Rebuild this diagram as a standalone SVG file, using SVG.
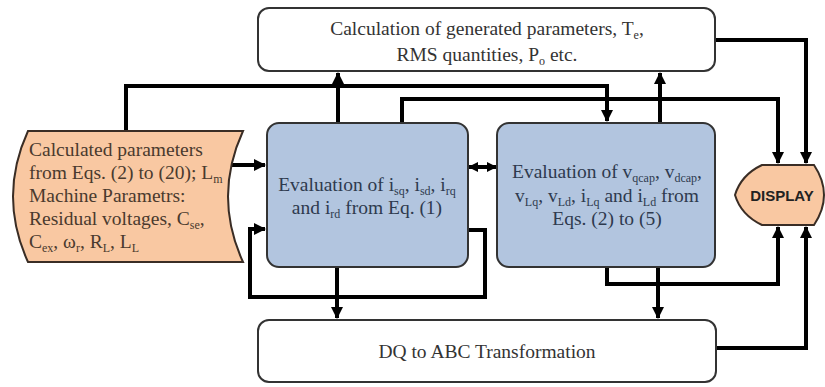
<svg xmlns="http://www.w3.org/2000/svg" width="825" height="387" viewBox="0 0 825 387">
<defs>
<style>
.box{fill:#ffffff;stroke:#333;stroke-width:2}
.blue{fill:#B2C5DF;stroke:#333;stroke-width:2}
.peach{fill:#F9C8A2;stroke:#3a2d25;stroke-width:2}
.t{font-family:"Liberation Serif","Times New Roman",serif;font-size:19.5px;fill:#333}
.tb{font-family:"Liberation Serif","Times New Roman",serif;font-size:19.5px;fill:#2e3a4e}
.tl{font-family:"Liberation Serif","Times New Roman",serif;font-size:19.5px;fill:#4a3a2e}
.s{font-size:12px}
.disp{font-family:"Liberation Sans",Arial,sans-serif;font-size:15px;font-weight:bold;fill:#222}
.c{fill:none;stroke:#000;stroke-width:4}
</style>
<marker id="ah" markerWidth="12" markerHeight="12" refX="11" refY="6" orient="auto-start-reverse" markerUnits="userSpaceOnUse">
<path d="M0,0 L12,6 L0,12 z" fill="#000"/>
</marker>
<marker id="ahs" markerWidth="10" markerHeight="10" refX="9" refY="5" orient="auto-start-reverse" markerUnits="userSpaceOnUse">
<path d="M0,0 L10,5 L0,10 z" fill="#000"/>
</marker>
</defs>
<rect width="825" height="387" fill="#ffffff"/>

<g id="connectors">
<path class="c" d="M126,131 V86 H607 V121" marker-end="url(#ah)"/>
<path class="c" d="M338,123 V73" marker-end="url(#ah)"/>
<path class="c" d="M402,123 V99 H778 V163" marker-end="url(#ah)"/>
<path class="c" d="M660,123 V73" marker-end="url(#ah)"/>
<path class="c" d="M715,40 H806 V163" marker-end="url(#ah)"/>
<path class="c" d="M232,165 H265" marker-end="url(#ah)"/>
<path class="c" d="M469,167 H496" marker-start="url(#ahs)" marker-end="url(#ahs)"/>
<path class="c" d="M337,267 V318" marker-end="url(#ah)"/>
<path class="c" d="M468,230 H485 V297 H250 V229 H265" marker-end="url(#ah)"/>
<path class="c" d="M607,267 V284 H778 V227" marker-end="url(#ah)"/>
<path class="c" d="M658,267 V318" marker-end="url(#ah)"/>
<path class="c" d="M716,348 H806 V227" marker-end="url(#ah)"/>
</g>

<g id="top-box">
<rect class="box" x="258" y="8" width="457" height="63" rx="11"/>
<text class="t" x="487" y="35" text-anchor="middle">Calculation of generated parameters, T<tspan class="s" dy="4">e</tspan><tspan dy="-4">,</tspan></text>
<text class="t" x="487" y="61" text-anchor="middle">RMS quantities, P<tspan class="s" dy="4">o</tspan><tspan dy="-4"> etc.</tspan></text>
</g>

<g id="input-params">
<path class="peach" d="M28,131 H243 Q213,196.5 243,262 H28 Q-2,196.5 28,131 Z"/>
<text class="tl" x="29" y="156">Calculated parameters</text>
<text class="tl" x="29" y="179">from Eqs. (2) to (20); L<tspan class="s" dy="4">m</tspan></text>
<text class="tl" x="29" y="202">Machine Parametrs:</text>
<text class="tl" x="29" y="225">Residual voltages, C<tspan class="s" dy="4">se</tspan><tspan dy="-4">,</tspan></text>
<text class="tl" x="29" y="248">C<tspan class="s" dy="4">ex</tspan><tspan dy="-4">, ω</tspan><tspan class="s" dy="4">r</tspan><tspan dy="-4">, R</tspan><tspan class="s" dy="4">L</tspan><tspan dy="-4">, L</tspan><tspan class="s" dy="4">L</tspan></text>
</g>

<g id="eval-currents">
<rect class="blue" x="267" y="123" width="201" height="144" rx="12"/>
<text class="tb" x="367" y="191" text-anchor="middle">Evaluation of i<tspan class="s" dy="4">sq</tspan><tspan dy="-4">, i</tspan><tspan class="s" dy="4">sd</tspan><tspan dy="-4">, i</tspan><tspan class="s" dy="4">rq</tspan></text>
<text class="tb" x="367" y="214" text-anchor="middle">and i<tspan class="s" dy="4">rd</tspan><tspan dy="-4"> from Eq. (1)</tspan></text>
</g>

<g id="eval-voltages">
<rect class="blue" x="497" y="123" width="218" height="144" rx="12"/>
<text class="tb" x="607" y="178" text-anchor="middle">Evaluation of v<tspan class="s" dy="4">qcap</tspan><tspan dy="-4">, v</tspan><tspan class="s" dy="4">dcap</tspan><tspan dy="-4">,</tspan></text>
<text class="tb" x="607" y="202" text-anchor="middle">v<tspan class="s" dy="4">Lq</tspan><tspan dy="-4">, v</tspan><tspan class="s" dy="4">Ld</tspan><tspan dy="-4">, i</tspan><tspan class="s" dy="4">Lq</tspan><tspan dy="-4"> and i</tspan><tspan class="s" dy="4">Ld</tspan><tspan dy="-4"> from</tspan></text>
<text class="tb" x="607" y="225" text-anchor="middle">Eqs. (2) to (5)</text>
</g>

<g id="display">
<path class="peach" d="M762,165 H814 Q824,180 824,195 Q824,210 814,225 H762 Q741,215 735,195 Q741,175 762,165 Z"/>
<text class="disp" x="782" y="201" text-anchor="middle">DISPLAY</text>
</g>

<g id="dq-abc">
<rect class="box" x="258" y="320" width="458" height="62" rx="11"/>
<text class="t" x="487" y="358" text-anchor="middle">DQ to ABC Transformation</text>
</g>
</svg>
